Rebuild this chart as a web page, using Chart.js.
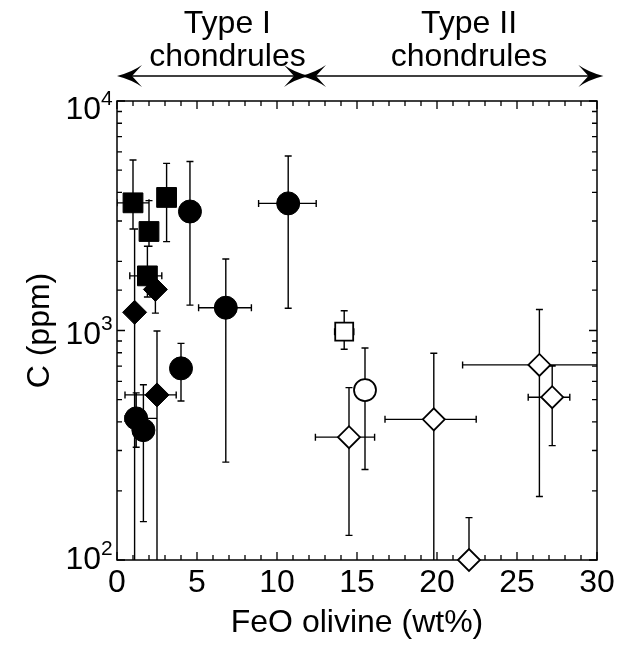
<!DOCTYPE html>
<html>
<head>
<meta charset="utf-8">
<script src="https://cdn.jsdelivr.net/npm/chart.js@4.4.1/dist/chart.umd.min.js"></script>
<style>
  html, body { margin: 0; padding: 0; background: #fff; }
</style>
</head>
<body>
<canvas id="chart" width="625" height="648"></canvas>
<script>
// axis ranges and tick labels
const xMin = 0, xMax = 30;
const yMin = 100, yMax = 10000;
const xTickLabels = ['0', '5', '10', '15', '20', '25', '30'];
const yTickValues = [100, 1000, 10000];
const yTickBase = ['10', '10', '10'];
const yTickExp = ['2', '3', '4'];

// top annotations (FeO ranges of the two chondrule types)
const typeNames = [['Type I', 'chondrules'], ['Type II', 'chondrules']];
const typeStart = [0, 11.5];
const typeEnd = [12.0, 30.4];
const typeLabelX = [6.9, 22.0];

// filled squares
const sqFeO = [1.0, 2.0, 3.1, 1.9];
const sqC = [3600, 2700, 3800, 1730];
const sqFeOLo = [0.0, null, null, 0.8];
const sqFeOHi = [2.0, null, null, 2.8];
const sqCLo = [2770, 2330, 2440, 1400];
const sqCHi = [5530, 3680, 5350, 2330];

// filled circles
const ciFeO = [4.56, 10.7, 6.8, 4.0, 1.2, 1.65];
const ciC = [3300, 3580, 1257, 684, 414, 368];
const ciFeOLo = [null, 8.85, 5.1, null, 0.5, null];
const ciFeOHi = [null, 12.45, 8.4, null, 2.5, null];
const ciCLo = [1290, 1250, 267, 493, 310, 147];
const ciCHi = [5450, 5760, 2050, 879, 535, 580];

// filled diamonds
const diFeO = [1.1, 2.4, 2.5];
const diC = [1200, 1510, 524];
const diFeOLo = [null, null, 0.5];
const diFeOHi = [null, null, 3.7];
const diCLo = [50, 1190, 50];
const diCHi = [2770, null, 995];

// open square
const osFeO = [14.2];
const osC = [988];
const osFeOLo = [13.6];
const osFeOHi = [14.8];
const osCLo = [828];
const osCHi = [1220];

// open circle
const ocFeO = [15.5];
const ocC = [550];
const ocFeOLo = [null];
const ocFeOHi = [null];
const ocCLo = [248];
const ocCHi = [839];

// open diamonds
const odFeO = [14.5, 19.8, 22.0, 26.4, 27.2];
const odC = [343, 410, 100, 708, 512];
const odFeOLo = [12.4, 16.75, null, 21.6, 25.7];
const odFeOHi = [16.1, 22.45, null, 31, 28.3];
const odCLo = [128, 50, null, 189, 315];
const odCHi = [564, 796, 153, 1235, 700];

const FONT = 'Liberation Sans, Arial, Helvetica, sans-serif';
Chart.defaults.font.family = FONT;
Chart.defaults.color = '#000';

function makeSet(label, xs, ys, xLo, xHi, yLo, yHi, style, radius, filled) {
    return {
        label,
        data: xs.map((x, i) => ({ x, y: ys[i] })),
        errors: xs.map((x, i) => ({ xLo: xLo[i], xHi: xHi[i], yLo: yLo[i], yHi: yHi[i] })),
        pointStyle: style,
        pointRadius: radius,
        pointHoverRadius: radius,
        backgroundColor: filled ? '#000' : '#fff',
        borderColor: '#000',
        borderWidth: filled ? 1 : 1.8,
        showLine: false,
        clip: false
    };
}

// plot frame with inward ticks on all four sides
const frame = {
    id: 'frame',
    beforeDatasetsDraw(chart) {
        const { ctx, chartArea: a, scales: { x, y } } = chart;
        ctx.save();
        ctx.strokeStyle = '#000';
        ctx.lineWidth = 1.5;
        ctx.strokeRect(a.left, a.top, a.right - a.left, a.bottom - a.top);
        ctx.lineWidth = 1.3;
        ctx.beginPath();
        x.ticks.forEach(t => {
            const px = x.getPixelForValue(t.value);
            const len = t.value % 5 === 0 ? 8 : 5;
            ctx.moveTo(px, a.bottom); ctx.lineTo(px, a.bottom - len);
            ctx.moveTo(px, a.top); ctx.lineTo(px, a.top + len);
        });
        y.ticks.forEach(t => {
            const py = y.getPixelForValue(t.value);
            const lg = Math.log10(t.value);
            const len = Math.abs(lg - Math.round(lg)) < 1e-6 ? 8 : 5;
            ctx.moveTo(a.left, py); ctx.lineTo(a.left + len, py);
            ctx.moveTo(a.right, py); ctx.lineTo(a.right - len, py);
        });
        ctx.stroke();
        ctx.restore();
    }
};

// error bars drawn from each dataset's errors through the scales
const errorBars = {
    id: 'errorBars',
    beforeDatasetsDraw(chart) {
        const { ctx, chartArea: a, scales: { x, y } } = chart;
        const cap = 3.5;
        ctx.save();
        ctx.beginPath();
        ctx.rect(a.left, a.top, a.right - a.left, a.bottom - a.top);
        ctx.clip();
        ctx.strokeStyle = '#000';
        ctx.lineWidth = 1.4;
        ctx.beginPath();
        chart.data.datasets.forEach(ds => {
            ds.data.forEach((p, i) => {
                const e = ds.errors[i];
                const px = x.getPixelForValue(p.x);
                const py = y.getPixelForValue(p.y);
                [e.yLo, e.yHi].forEach(v => {
                    if (v == null) return;
                    const q = y.getPixelForValue(v);
                    ctx.moveTo(px, py); ctx.lineTo(px, q);
                    ctx.moveTo(px - cap, q); ctx.lineTo(px + cap, q);
                });
                [e.xLo, e.xHi].forEach(v => {
                    if (v == null) return;
                    const q = x.getPixelForValue(v);
                    ctx.moveTo(px, py); ctx.lineTo(q, py);
                    ctx.moveTo(q, py - cap); ctx.lineTo(q, py + cap);
                });
            });
        });
        ctx.stroke();
        ctx.restore();
    }
};

// y labels as 10 with a raised exponent
const yLabels = {
    id: 'yLabels',
    afterDraw(chart) {
        const { ctx, chartArea: a, scales: { y } } = chart;
        const drop = [9, 13, 18];
        ctx.save();
        ctx.fillStyle = '#000';
        ctx.textBaseline = 'alphabetic';
        yTickValues.forEach((v, i) => {
            const py = y.getPixelForValue(v);
            ctx.font = '32px ' + FONT;
            ctx.textAlign = 'right';
            ctx.fillText(yTickBase[i], a.left - 16, py + drop[i]);
            ctx.font = '21px ' + FONT;
            ctx.textAlign = 'left';
            ctx.fillText(yTickExp[i], a.left - 16, py + drop[i] - 14);
        });
        ctx.restore();
    }
};

function arrowHead(ctx, tipX, y, dir) {
    const L = 25, W = 11, notch = 15;
    ctx.beginPath();
    ctx.moveTo(tipX, y);
    ctx.quadraticCurveTo(tipX - dir * L * 0.6, y - W * 0.35, tipX - dir * L, y - W);
    ctx.lineTo(tipX - dir * notch, y);
    ctx.lineTo(tipX - dir * L, y + W);
    ctx.quadraticCurveTo(tipX - dir * L * 0.6, y + W * 0.35, tipX, y);
    ctx.closePath();
    ctx.fill();
}

// "Type I / Type II chondrules" labels with double arrows
const typeLabels = {
    id: 'typeLabels',
    afterDraw(chart) {
        const { ctx, scales: { x } } = chart;
        const arrowY = 76;
        ctx.save();
        ctx.fillStyle = '#000';
        ctx.strokeStyle = '#000';
        ctx.lineWidth = 1.5;
        ctx.font = '32px ' + FONT;
        ctx.textAlign = 'center';
        ctx.textBaseline = 'alphabetic';
        typeNames.forEach((lines, i) => {
            const cx = x.getPixelForValue(typeLabelX[i]);
            ctx.fillText(lines[0], cx, 33);
            ctx.fillText(lines[1], cx, 66);
            const x0 = x.getPixelForValue(typeStart[i]);
            const x1 = x.getPixelForValue(typeEnd[i]);
            ctx.beginPath();
            ctx.moveTo(x0 + 10, arrowY); ctx.lineTo(x1 - 10, arrowY);
            ctx.stroke();
            arrowHead(ctx, x0, arrowY, -1);
            arrowHead(ctx, x1, arrowY, 1);
        });
        ctx.restore();
    }
};

new Chart(document.getElementById('chart'), {
    type: 'scatter',
    data: {
        datasets: [
            makeSet('Open diamonds', odFeO, odC, odFeOLo, odFeOHi, odCLo, odCHi, 'rectRot', 11, false),
            makeSet('Open circle', ocFeO, ocC, ocFeOLo, ocFeOHi, ocCLo, ocCHi, 'circle', 11, false),
            makeSet('Open square', osFeO, osC, osFeOLo, osFeOHi, osCLo, osCHi, 'rect', 12.7, false),
            makeSet('Filled diamonds', diFeO, diC, diFeOLo, diFeOHi, diCLo, diCHi, 'rectRot', 12, true),
            makeSet('Filled circles', ciFeO, ciC, ciFeOLo, ciFeOHi, ciCLo, ciCHi, 'circle', 11.5, true),
            makeSet('Filled squares', sqFeO, sqC, sqFeOLo, sqFeOHi, sqCLo, sqCHi, 'rect', 14, true)
        ]
    },
    options: {
        responsive: false,
        animation: false,
        events: [],
        layout: { padding: { top: 101, right: 28, left: 0, bottom: 0 } },
        plugins: {
            legend: { display: false },
            tooltip: { enabled: false }
        },
        scales: {
            x: {
                type: 'linear',
                min: xMin,
                max: xMax,
                afterFit: s => { s.height = 88; },
                grid: { display: false },
                border: { display: false },
                ticks: {
                    stepSize: 1,
                    autoSkip: false,
                    maxRotation: 0,
                    padding: -4,
                    font: { size: 32 },
                    callback: v => (v % 5 === 0 ? xTickLabels[v / 5] : '')
                },
                title: {
                    display: true,
                    text: 'FeO olivine (wt%)',
                    font: { size: 32 },
                    padding: { top: 0, bottom: 6 }
                }
            },
            y: {
                type: 'logarithmic',
                min: yMin,
                max: yMax,
                afterFit: s => { s.width = 117; },
                grid: { display: false },
                border: { display: false },
                ticks: {
                    autoSkip: false,
                    callback: () => ''
                },
                title: {
                    display: true,
                    text: 'C (ppm)',
                    font: { size: 32 },
                    padding: { top: 21, bottom: 0 }
                }
            }
        }
    },
    plugins: [frame, errorBars, yLabels, typeLabels]
});
</script>
</body>
</html>
